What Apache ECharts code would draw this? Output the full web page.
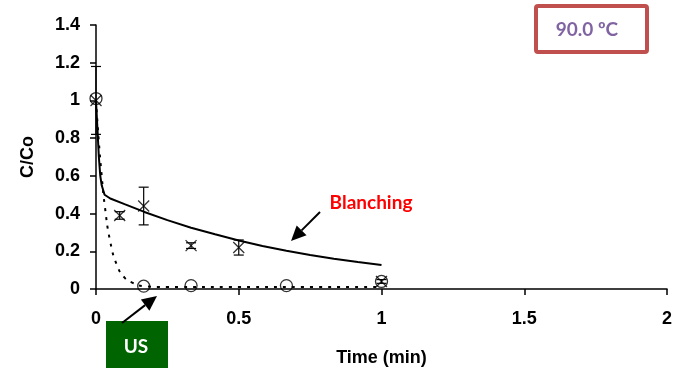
<!DOCTYPE html>
<html>
<head>
<meta charset="utf-8">
<script src="https://cdn.jsdelivr.net/npm/echarts@6/dist/echarts.min.js"></script>
<style>
html,body{margin:0;padding:0;background:#fff;}
#main{width:680px;height:368px;}
</style>
</head>
<body>
<div id="main"></div>
<script>
// measured points (x = time in min, y = C/Co)
var blanchPts = [[0, 1.0], [0.083, 0.39], [0.167, 0.44], [0.333, 0.23], [0.5, 0.22], [1.0, 0.04]];
var blanchErr = [[0, 0.82, 1.18], [0.083, 0.37, 0.41], [0.167, 0.34, 0.54], [0.333, 0.215, 0.245], [0.5, 0.18, 0.26], [1.0, 0.03, 0.05]];
var usPts = [[0, 1.01], [0.167, 0.015], [0.333, 0.018], [0.667, 0.018], [1.0, 0.04]];
// fitted curves
var blanchFit = [[0, 1.0], [0.005, 0.85], [0.01, 0.7], [0.015, 0.6], [0.02, 0.55], [0.03, 0.5], [0.05, 0.48],
  [0.1, 0.45], [0.167, 0.41], [0.25, 0.365], [0.333, 0.325], [0.417, 0.29], [0.5, 0.257], [0.583, 0.228],
  [0.667, 0.203], [0.75, 0.18], [0.833, 0.16], [0.917, 0.143], [1.0, 0.127]];
var usFit = [[0, 1.0], [0.01, 0.78], [0.02, 0.6], [0.03, 0.45], [0.05, 0.25], [0.075, 0.12], [0.1, 0.06],
  [0.125, 0.035], [0.167, 0.015], [0.25, 0.01], [0.5, 0.01], [0.75, 0.01], [1.0, 0.01]];

var chart = echarts.init(document.getElementById('main'));

function arrow(x1, y1, x2, y2) {
  var dx = x2 - x1, dy = y2 - y1, len = Math.sqrt(dx * dx + dy * dy);
  var ux = dx / len, uy = dy / len, hl = 15, hw = 7;
  var bx = x2 - ux * hl, by = y2 - uy * hl;
  return [
    {type: 'line', shape: {x1: x1, y1: y1, x2: bx, y2: by}, style: {stroke: '#000', lineWidth: 2}, z: 100},
    {type: 'polygon', shape: {points: [[x2, y2], [bx - uy * hw, by + ux * hw], [bx + uy * hw, by - ux * hw]]},
      style: {fill: '#000'}, z: 100}
  ];
}

var axisFont = {fontFamily: 'Liberation Sans', fontWeight: 'bold', fontSize: 18, color: '#000'};

var option = {
  animation: false,
  grid: {left: 96, right: 13, top: 25, bottom: 79, containLabel: false, outerBoundsMode: 'none'},
  xAxis: {
    type: 'value', min: 0, max: 2, interval: 0.5,
    name: 'Time (min)', nameLocation: 'middle', nameGap: 60,
    nameTextStyle: axisFont,
    axisLine: {lineStyle: {color: '#000', width: 1.5}},
    axisTick: {show: true, length: 6, lineStyle: {color: '#000', width: 1.5}},
    axisLabel: Object.assign({margin: 21}, axisFont),
    splitLine: {show: false}
  },
  yAxis: {
    type: 'value', min: 0, max: 1.4, interval: 0.2,
    name: 'C/Co', nameLocation: 'middle', nameGap: 59,
    nameTextStyle: axisFont,
    axisLine: {show: true, onZero: false, lineStyle: {color: '#000', width: 1.5}},
    axisTick: {show: true, length: 6, lineStyle: {color: '#000', width: 1.5}},
    axisLabel: Object.assign({margin: 16}, axisFont),
    splitLine: {show: false}
  },
  series: [
    {
      type: 'line', data: blanchFit, showSymbol: false, smooth: false,
      lineStyle: {color: '#000', width: 2}, z: 3
    },
    {
      type: 'line', data: usFit, showSymbol: false, smooth: true,
      lineStyle: {color: '#000', width: 2, type: [3, 6]}, z: 3
    },
    {
      type: 'custom', data: blanchErr, z: 4,
      renderItem: function (params, api) {
        var top = api.coord([api.value(0), api.value(2)]);
        var bot = api.coord([api.value(0), api.value(1)]);
        var c = 5;
        var st = {stroke: '#000', lineWidth: 1.2};
        return {type: 'group', children: [
          {type: 'line', shape: {x1: top[0], y1: top[1], x2: bot[0], y2: bot[1]}, style: st},
          {type: 'line', shape: {x1: top[0] - c, y1: top[1], x2: top[0] + c, y2: top[1]}, style: st},
          {type: 'line', shape: {x1: bot[0] - c, y1: bot[1], x2: bot[0] + c, y2: bot[1]}, style: st}
        ]};
      }
    },
    {
      type: 'scatter', data: blanchPts, z: 5,
      symbol: 'path://M0,0L10,10M10,0L0,10', symbolSize: 11,
      itemStyle: {color: 'none', borderColor: '#000', borderWidth: 1.3}
    },
    {
      type: 'scatter', data: usPts, z: 5,
      symbol: 'circle', symbolSize: 12,
      itemStyle: {color: 'rgba(255,255,255,0)', borderColor: '#000', borderWidth: 1.3}
    }
  ],
  graphic: [].concat(
    arrow(320, 212, 291, 241),
    arrow(122, 323, 157, 296),
    [
      {type: 'text', x: 371, y: 203, z: 100,
        style: {text: 'Blanching', fill: '#ff0000', font: 'bold 19px Lato', align: 'center', verticalAlign: 'middle'}},
      {type: 'rect', shape: {x: 106, y: 321, width: 62, height: 47}, style: {fill: '#006400'}, z: 90},
      {type: 'text', x: 136, y: 347, z: 100,
        style: {text: 'US', fill: '#fff', font: 'bold 19px Lato', align: 'center', verticalAlign: 'middle'}},
      {type: 'rect', shape: {x: 536, y: 6, width: 111, height: 46, r: 2}, z: 90,
        style: {fill: '#fff', stroke: '#c0504d', lineWidth: 4}},
      {type: 'text', x: 587, y: 30, z: 100,
        style: {text: '90.0 ºC', fill: '#8064a2', font: 'bold 19px Lato', align: 'center', verticalAlign: 'middle'}}
    ]
  )
};
chart.setOption(option);
</script>
</body>
</html>
